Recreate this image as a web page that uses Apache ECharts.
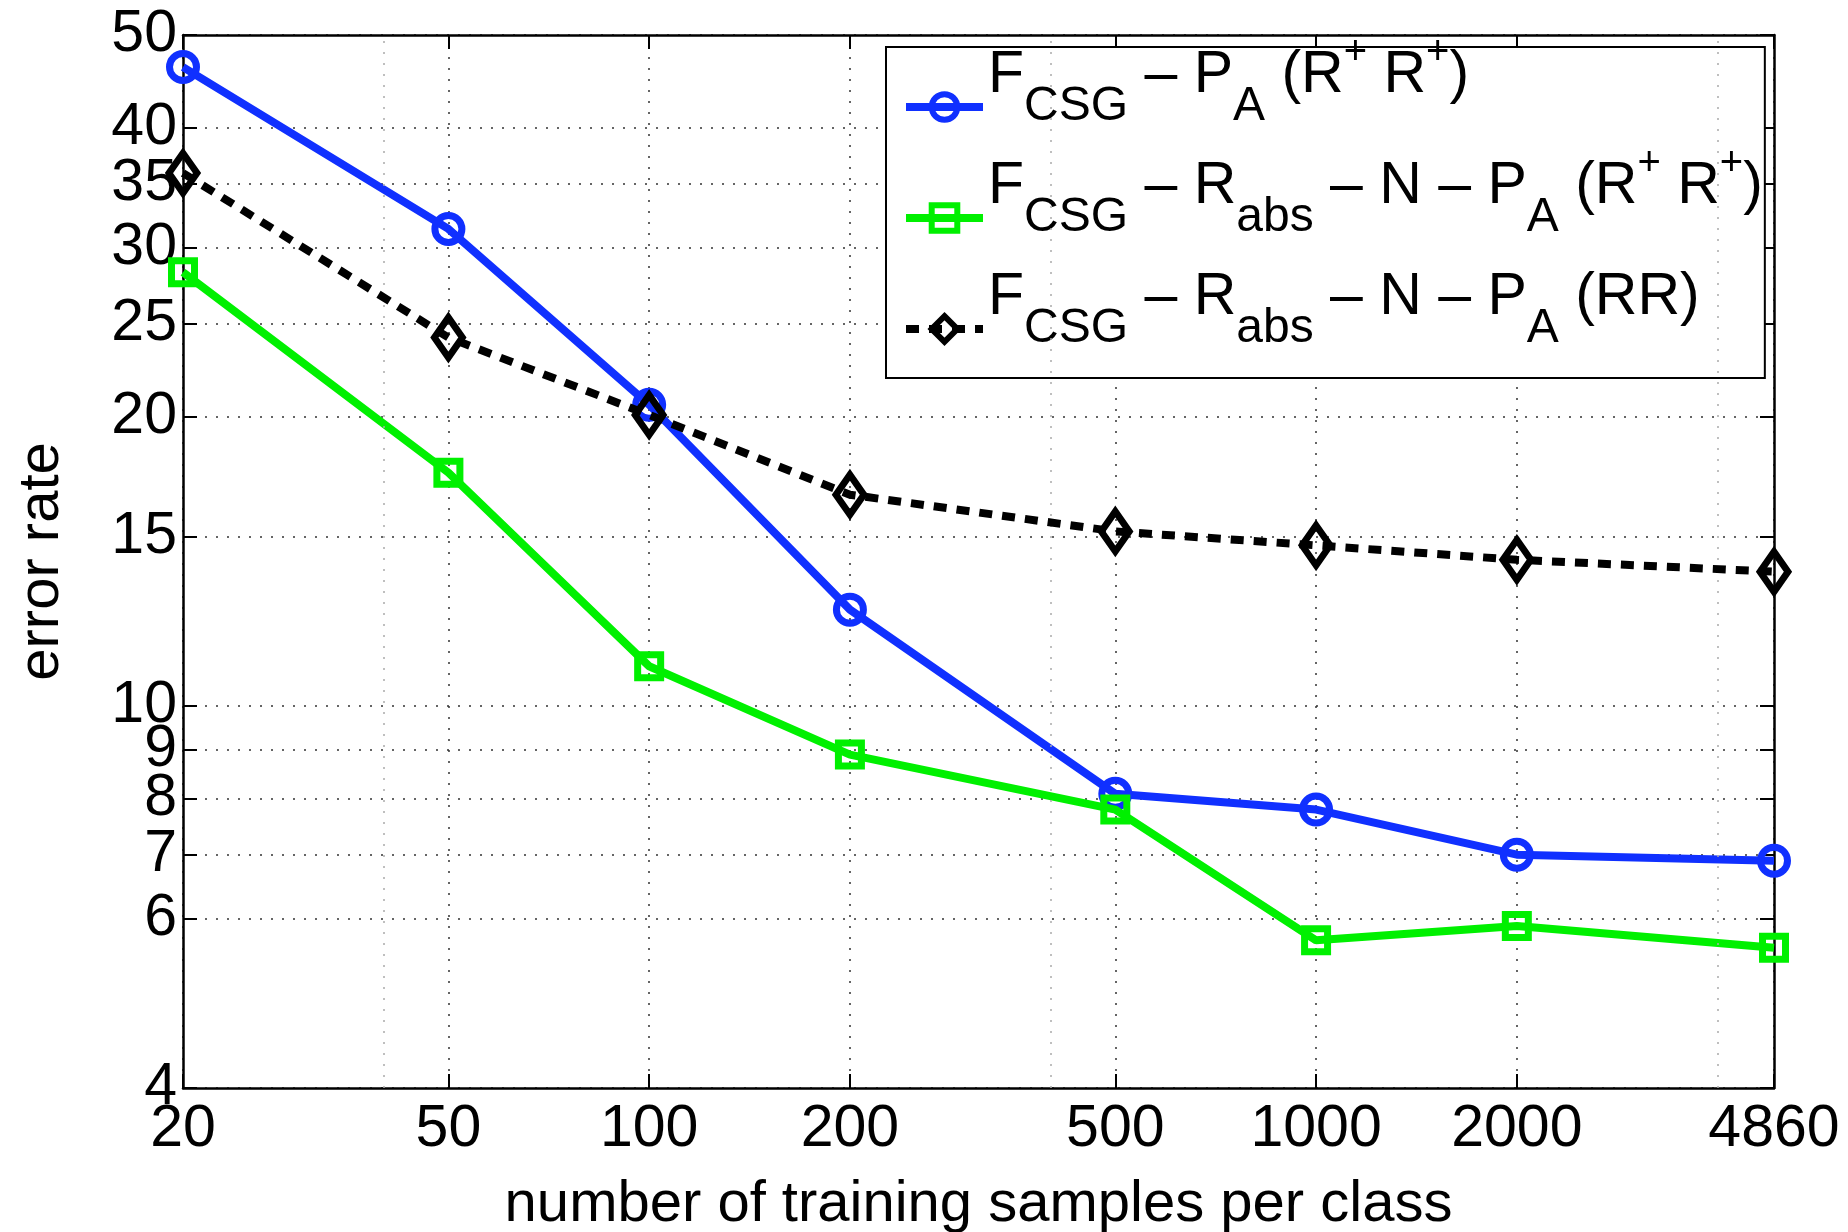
<!DOCTYPE html>
<html>
<head>
<meta charset="utf-8">
<script src="https://cdn.jsdelivr.net/npm/echarts@6/dist/echarts.min.js"></script>
<style>
  html, body { margin: 0; padding: 0; background: #fff; }
  #main { width: 1848px; height: 1232px; }
</style>
</head>
<body>
<div id="main"></div>
<script>
var samples = [20, 50, 100, 200, 500, 1000, 2000, 4860];
var errPA = [46.3, 31.4, 20.6, 12.6, 8.1, 7.8, 7.0, 6.9];
var errRabsN = [28.3, 17.5, 11.0, 8.9, 7.8, 5.7, 5.9, 5.6];
var errRabsNRR = [35.9, 24.2, 20.1, 16.6, 15.2, 14.7, 14.2, 13.8];
var xTicks = [20, 50, 100, 200, 500, 1000, 2000, 4860];
var yTicks = [4, 6, 7, 8, 9, 10, 15, 20, 25, 30, 35, 40, 50];
var xMinorGrid = [40, 400, 4000];

var FONT = '"Liberation Sans", Arial, Helvetica, sans-serif';
var NONE = 'rgba(0,0,0,0)';

var names = ['pa', 'rabsn', 'rabsnrr'];
var legendText = {
  pa: '{m|F}{s|CSG}{m| – P}{s|A}{m| (R}{p|+}{m| R}{p|+}{m|)}',
  rabsn: '{m|F}{s|CSG}{m| – R}{s|abs}{m| – N – P}{s|A}{m| (R}{p|+}{m| R}{p|+}{m|)}',
  rabsnrr: '{m|F}{s|CSG}{m| – R}{s|abs}{m| – N – P}{s|A}{m| (RR)}'
};

function pairs(vals) {
  return samples.map(function (x, i) { return [x, vals[i]]; });
}

var chartDom = document.getElementById('main');
var myChart = echarts.init(chartDom);

var tickStyle = {show: true, inside: true, length: 14, lineStyle: {color: '#000', width: 2}};
var lineStyleAxis = {show: true, lineStyle: {color: '#000', width: 2.5}};
var gridDots = {show: true, lineStyle: {color: '#333', width: 1.5, type: [2, 9]}};

// legend line box is 148 high: subscript sits on the middle (same height as the icon),
// main text and superscripts are hung from the top
var option = {
  backgroundColor: '#fff',
  animation: false,
  grid: {left: 183, right: 74, top: 35, bottom: 144, containLabel: false, outerBoundsMode: 'none'},
  legend: {
    orient: 'vertical',
    left: 886,
    top: 47,
    padding: [-14, 2, -25, 16],
    itemGap: -37,
    itemWidth: 77,
    itemHeight: 32,
    borderColor: '#000',
    borderWidth: 2,
    backgroundColor: '#fff',
    lineStyle: {width: 8},
    itemStyle: {borderWidth: 6},
    data: names,
    formatter: function (name) { return legendText[name]; },
    textStyle: {
      color: '#000',
      fontFamily: FONT,
      rich: {
        m: {fontSize: 59, fontFamily: FONT, color: '#000', height: 86, lineHeight: 86, verticalAlign: 'top'},
        s: {fontSize: 48, fontFamily: FONT, color: '#000', height: 148, lineHeight: 148, verticalAlign: 'middle'},
        p: {fontSize: 40, fontFamily: FONT, color: '#000', height: 40, lineHeight: 40, verticalAlign: 'top'}
      }
    }
  },
  xAxis: [
    {
      type: 'log', min: 20, max: 4860, logBase: 10,
      name: 'number of training samples per class',
      nameLocation: 'middle', nameGap: 88,
      nameTextStyle: {fontSize: 58, fontFamily: FONT, color: '#000'},
      axisLine: lineStyleAxis,
      axisTick: Object.assign({customValues: xTicks}, tickStyle),
      axisLabel: {customValues: xTicks, fontSize: 59, fontFamily: FONT, color: '#000', margin: 12,
        formatter: function (v) { return String(Math.round(v)); }},
      splitLine: gridDots,
      minorTick: {show: false}
    },
    {
      type: 'log', min: 20, max: 4860, logBase: 10, position: 'top',
      axisLine: lineStyleAxis,
      axisTick: Object.assign({customValues: xTicks}, tickStyle),
      axisLabel: {show: false},
      splitLine: {show: false}
    }
  ],
  yAxis: [
    {
      type: 'log', min: 4, max: 50, logBase: 10,
      name: 'error rate',
      nameLocation: 'middle', nameGap: 112, nameRotate: 90,
      nameTextStyle: {fontSize: 58, fontFamily: FONT, color: '#000'},
      axisLine: lineStyleAxis,
      axisTick: Object.assign({customValues: yTicks}, tickStyle),
      axisLabel: {customValues: yTicks, fontSize: 59, fontFamily: FONT, color: '#000', margin: 6,
        formatter: function (v) { return String(Math.round(v)); }},
      splitLine: gridDots
    },
    {
      type: 'log', min: 4, max: 50, logBase: 10, position: 'right',
      axisLine: lineStyleAxis,
      axisTick: Object.assign({customValues: yTicks}, tickStyle),
      axisLabel: {show: false},
      splitLine: {show: false}
    }
  ],
  series: [
    {
      name: 'pa', type: 'line', data: pairs(errPA),
      symbol: 'circle', symbolSize: 27,
      lineStyle: {color: '#1030ff', width: 8},
      itemStyle: {color: NONE, borderColor: '#1030ff', borderWidth: 7},
      emphasis: {disabled: true},
      markLine: {
        silent: true, symbol: 'none', label: {show: false},
        lineStyle: {color: '#aaa', width: 1.5, type: [2, 9]},
        data: xMinorGrid.map(function (v) { return {xAxis: v}; })
      },
      z: 3
    },
    {
      name: 'rabsn', type: 'line', data: pairs(errRabsN),
      symbol: 'rect', symbolSize: 23,
      lineStyle: {color: '#00f000', width: 8},
      itemStyle: {color: NONE, borderColor: '#00f000', borderWidth: 7},
      emphasis: {disabled: true},
      z: 4
    },
    {
      name: 'rabsnrr', type: 'line', data: pairs(errRabsNRR),
      symbol: 'diamond', symbolSize: [28, 40],
      lineStyle: {color: '#000', width: 8, type: [13, 10]},
      itemStyle: {color: NONE, borderColor: '#000', borderWidth: 7},
      emphasis: {disabled: true},
      z: 5
    }
  ]
};

myChart.setOption(option);
</script>
</body>
</html>
